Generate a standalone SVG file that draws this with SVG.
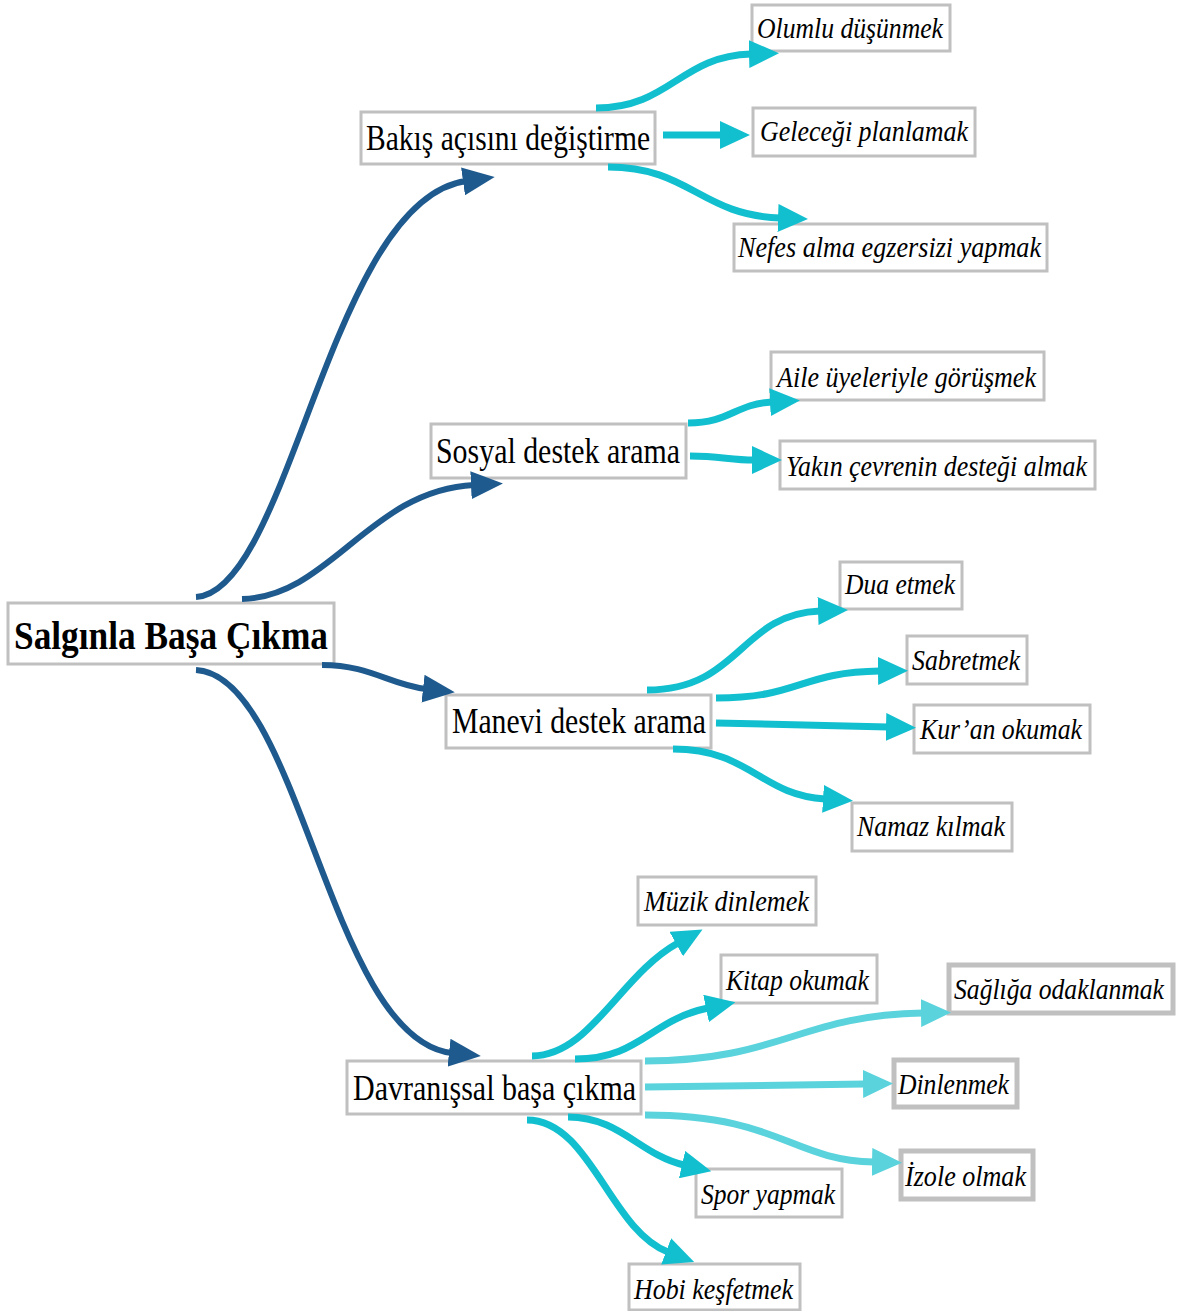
<svg xmlns="http://www.w3.org/2000/svg" width="1179" height="1311" viewBox="0 0 1179 1311">
<style>
.box{fill:#fff;stroke:#c0c0c0;stroke-width:3}
.box.thick{stroke-width:5}
.t1{font-family:"Liberation Serif",serif;font-weight:bold;font-size:41px;fill:#000}
.t2{font-family:"Liberation Serif",serif;font-size:36px;fill:#000}
.t3{font-family:"Liberation Serif",serif;font-style:italic;font-size:30px;fill:#000}
.dk{fill:none;stroke:#1f5a8e;stroke-width:6;marker-end:url(#ad)}
.cy{fill:none;stroke:#12bfcf;stroke-width:7;marker-end:url(#ac)}
.lc{fill:none;stroke:#5ad3dc;stroke-width:7;marker-end:url(#al)}
</style>
<defs>
<marker id="ad" markerUnits="userSpaceOnUse" markerWidth="32" markerHeight="28" refX="3" refY="14" orient="auto" viewBox="0 0 32 28"><path d="M0,0 L32,14 L0,28 z" fill="#1f5a8e"/></marker>
<marker id="ac" markerUnits="userSpaceOnUse" markerWidth="30" markerHeight="28" refX="2" refY="14" orient="auto" viewBox="0 0 30 28"><path d="M0,0 L30,14 L0,28 z" fill="#12bfcf"/></marker>
<marker id="al" markerUnits="userSpaceOnUse" markerWidth="30" markerHeight="28" refX="2" refY="14" orient="auto" viewBox="0 0 30 28"><path d="M0,0 L30,14 L0,28 z" fill="#5ad3dc"/></marker>
</defs>
<rect width="1179" height="1311" fill="#fff"/>
<g id="nodes">
<g id="n-main"><rect class="box" x="8" y="603" width="326" height="61"/><text class="t1" x="14" y="649" textLength="314" lengthAdjust="spacingAndGlyphs">Salgınla Başa Çıkma</text></g>
<g id="n-bakis"><rect class="box" x="361" y="112" width="294" height="52"/><text class="t2" x="366" y="150" textLength="284" lengthAdjust="spacingAndGlyphs">Bakış açısını değiştirme</text></g>
<g id="n-sosyal"><rect class="box" x="431" y="424" width="255" height="54"/><text class="t2" x="436" y="463" textLength="244" lengthAdjust="spacingAndGlyphs">Sosyal destek arama</text></g>
<g id="n-manevi"><rect class="box" x="446" y="695" width="265" height="53"/><text class="t2" x="452" y="733" textLength="254" lengthAdjust="spacingAndGlyphs">Manevi destek arama</text></g>
<g id="n-davranis"><rect class="box" x="347" y="1061" width="294" height="53"/><text class="t2" x="353" y="1100" textLength="283" lengthAdjust="spacingAndGlyphs">Davranışsal başa çıkma</text></g>
<g id="n-olumlu"><rect class="box" x="752" y="5" width="198" height="46"/><text class="t3" x="757" y="38" textLength="186" lengthAdjust="spacingAndGlyphs">Olumlu düşünmek</text></g>
<g id="n-gelecek"><rect class="box" x="753" y="108" width="222" height="48"/><text class="t3" x="760" y="141" textLength="208" lengthAdjust="spacingAndGlyphs">Geleceği planlamak</text></g>
<g id="n-nefes"><rect class="box" x="734" y="224" width="313" height="47"/><text class="t3" x="738" y="257" textLength="303" lengthAdjust="spacingAndGlyphs">Nefes alma egzersizi yapmak</text></g>
<g id="n-aile"><rect class="box" x="771" y="352" width="273" height="48"/><text class="t3" x="777" y="387" textLength="259" lengthAdjust="spacingAndGlyphs">Aile üyeleriyle görüşmek</text></g>
<g id="n-yakin"><rect class="box" x="780" y="441" width="315" height="48"/><text class="t3" x="786" y="476" textLength="301" lengthAdjust="spacingAndGlyphs">Yakın çevrenin desteği almak</text></g>
<g id="n-dua"><rect class="box" x="840" y="562" width="122" height="47"/><text class="t3" x="845" y="594" textLength="110" lengthAdjust="spacingAndGlyphs">Dua etmek</text></g>
<g id="n-sabret"><rect class="box" x="907" y="636" width="120" height="48"/><text class="t3" x="912" y="670" textLength="108" lengthAdjust="spacingAndGlyphs">Sabretmek</text></g>
<g id="n-kuran"><rect class="box" x="914" y="705" width="176" height="48"/><text class="t3" x="920" y="739" textLength="162" lengthAdjust="spacingAndGlyphs">Kur’an okumak</text></g>
<g id="n-namaz"><rect class="box" x="852" y="803" width="160" height="48"/><text class="t3" x="857" y="836" textLength="148" lengthAdjust="spacingAndGlyphs">Namaz kılmak</text></g>
<g id="n-muzik"><rect class="box" x="638" y="877" width="178" height="48"/><text class="t3" x="644" y="911" textLength="165" lengthAdjust="spacingAndGlyphs">Müzik dinlemek</text></g>
<g id="n-kitap"><rect class="box" x="721" y="955" width="156" height="48"/><text class="t3" x="726" y="990" textLength="143" lengthAdjust="spacingAndGlyphs">Kitap okumak</text></g>
<g id="n-saglik"><rect class="box thick" x="949" y="965" width="224" height="48"/><text class="t3" x="954" y="999" textLength="210" lengthAdjust="spacingAndGlyphs">Sağlığa odaklanmak</text></g>
<g id="n-dinlen"><rect class="box thick" x="894" y="1060" width="123" height="47"/><text class="t3" x="898" y="1094" textLength="111" lengthAdjust="spacingAndGlyphs">Dinlenmek</text></g>
<g id="n-izole"><rect class="box thick" x="901" y="1151" width="132" height="48"/><text class="t3" x="905" y="1186" textLength="121" lengthAdjust="spacingAndGlyphs">İzole olmak</text></g>
<g id="n-spor"><rect class="box" x="696" y="1169" width="146" height="48"/><text class="t3" x="701" y="1204" textLength="134" lengthAdjust="spacingAndGlyphs">Spor yapmak</text></g>
<g id="n-hobi"><rect class="box" x="629" y="1264" width="171" height="46"/><text class="t3" x="634" y="1299" textLength="159" lengthAdjust="spacingAndGlyphs">Hobi keşfetmek</text></g>
</g>
<g id="connectors">
<path class="dk" d="M196,597 C290,592 330,200 466,181"/>
<path class="dk" d="M242,599 C330,597 370,490 474,485"/>
<path class="dk" d="M322,665 C370,665 390,685 426,689"/>
<path class="dk" d="M196,670 C300,675 330,1040 452,1053"/>
<path class="cy" d="M596,108 C670,108 680,56 751,54"/>
<path class="cy" d="M663,135 L722,135"/>
<path class="cy" d="M608,167 C690,167 700,215 780,218"/>
<path class="cy" d="M688,423 C730,423 735,404 772,402"/>
<path class="cy" d="M690,456 C720,456 730,460 754,460"/>
<path class="cy" d="M647,690 C740,690 740,614 820,611"/>
<path class="cy" d="M716,698 C800,698 800,672 880,671"/>
<path class="cy" d="M716,723 L888,727"/>
<path class="cy" d="M673,749 C750,749 760,795 825,799"/>
<path class="cy" d="M532,1056 C590,1056 620,975 678,943"/>
<path class="cy" d="M575,1059 C640,1059 650,1020 708,1008"/>
<path class="lc" d="M645,1061 C780,1061 800,1015 923,1013"/>
<path class="lc" d="M645,1087 L865,1084"/>
<path class="lc" d="M645,1115 C780,1115 790,1160 874,1162"/>
<path class="cy" d="M568,1117 C620,1117 640,1155 684,1165"/>
<path class="cy" d="M527,1120 C590,1120 610,1230 668,1252"/>
</g>
</svg>
